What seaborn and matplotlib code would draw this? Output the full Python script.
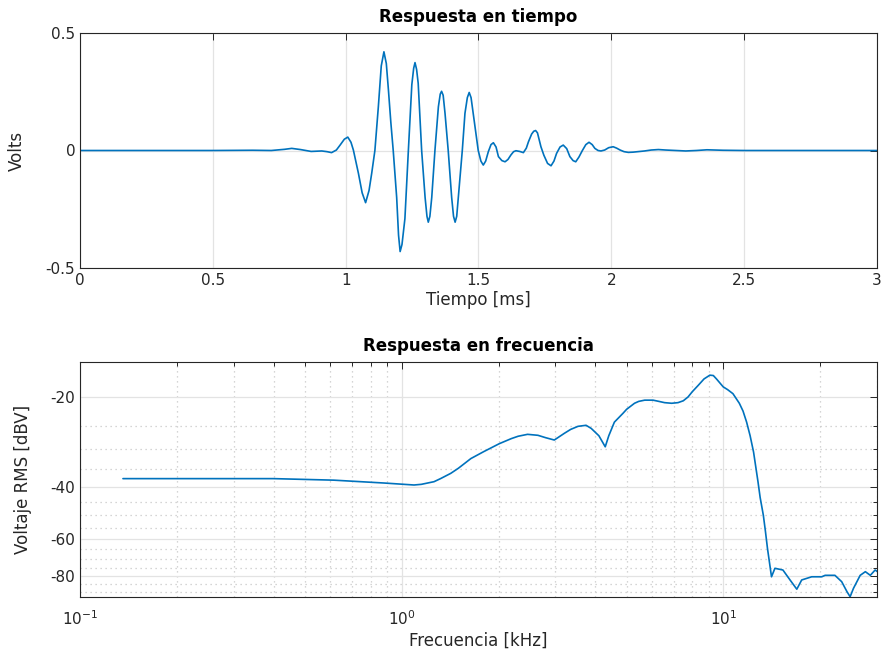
import numpy as np
import pandas as pd
import matplotlib
matplotlib.use("Agg")
import matplotlib.pyplot as plt
from matplotlib import ticker
import seaborn as sns

# --- Time response (ms, V) ---
t_ms = [
    0.0, 0.5, 0.65, 0.72, 0.77, 0.797, 0.83, 0.87, 0.91, 0.93,
    0.947, 0.965, 0.979, 0.995, 1.008, 1.02, 1.029, 1.048, 1.062, 1.075,
    1.088, 1.098, 1.110, 1.123, 1.134, 1.144, 1.153, 1.161, 1.170, 1.179,
    1.192, 1.199, 1.205, 1.212, 1.223, 1.236, 1.249, 1.256, 1.261, 1.267,
    1.273, 1.286, 1.299, 1.306, 1.311, 1.317, 1.324, 1.336, 1.349, 1.356,
    1.361, 1.367, 1.374, 1.386, 1.399, 1.406, 1.412, 1.418, 1.424, 1.439,
    1.449, 1.458, 1.465, 1.472, 1.480, 1.499, 1.509, 1.518, 1.527, 1.537,
    1.547, 1.556, 1.566, 1.575, 1.588, 1.600, 1.611, 1.622, 1.632, 1.641,
    1.655, 1.669, 1.680, 1.688, 1.700, 1.708, 1.715, 1.722, 1.735, 1.746,
    1.760, 1.773, 1.784, 1.794, 1.807, 1.819, 1.832, 1.844, 1.856, 1.866,
    1.878, 1.891, 1.904, 1.916, 1.928, 1.938, 1.950, 1.961, 1.975, 1.990,
    2.007, 2.020, 2.033, 2.048, 2.064, 2.082, 2.101, 2.125, 2.150, 2.177,
    2.205, 2.24, 2.28, 2.32, 2.36, 2.42, 2.5, 2.7, 3.0,
]
volts = [
    0.0, 0.0, 0.001, 0.0, 0.005, 0.009, 0.004, -0.004, -0.002, -0.005,
    -0.009, 0.002, 0.023, 0.048, 0.057, 0.035, 0.002, -0.097, -0.18, -0.222,
    -0.17, -0.097, 0.0, 0.186, 0.36, 0.42, 0.37, 0.257, 0.12, 0.0,
    -0.20, -0.36, -0.43, -0.40, -0.29, 0.0, 0.28, 0.35, 0.374, 0.345,
    0.286, 0.0, -0.2, -0.28, -0.305, -0.28, -0.2, 0.0, 0.186, 0.24,
    0.252, 0.235, 0.158, 0.0, -0.2, -0.28, -0.305, -0.28, -0.2, 0.0,
    0.158, 0.225, 0.247, 0.225, 0.158, 0.0, -0.045, -0.062, -0.045, -0.005,
    0.025, 0.033, 0.015, -0.026, -0.043, -0.048, -0.038, -0.019, -0.005, -0.001,
    -0.004, -0.009, 0.01, 0.037, 0.07, 0.082, 0.085, 0.075, 0.016, -0.02,
    -0.055, -0.065, -0.045, -0.012, 0.015, 0.023, 0.008, -0.026, -0.043, -0.048,
    -0.028, 0.0, 0.025, 0.035, 0.025, 0.009, 0.0, -0.002, 0.002, 0.012,
    0.016, 0.01, 0.002, -0.005, -0.008, -0.007, -0.005, -0.002, 0.002, 0.004,
    0.002, 0.0, -0.002, 0.0, 0.003, 0.001, 0.0, 0.0, 0.0,
]

# --- Frequency response (kHz, dBV RMS) ---
f_khz = [
    0.136, 0.2365, 0.399, 0.615, 0.881, 1.092, 1.15, 1.26, 1.32, 1.42,
    1.5, 1.64, 1.8, 2.01, 2.19, 2.3, 2.46, 2.65, 2.8, 2.98,
    3.20, 3.35, 3.53, 3.74, 3.88, 4.1, 4.29, 4.4, 4.58, 4.87,
    5.0, 5.29, 5.45, 5.69, 6.04, 6.3, 6.56, 6.9, 7.22, 7.5,
    7.76, 8.0, 8.34, 8.7, 9.07, 9.3, 9.51, 9.98, 10.3, 10.7,
    11.2, 11.5, 11.8, 12.1, 12.4, 12.8, 13.0, 13.3, 13.5, 13.7,
    13.9, 14.1, 14.45, 15.3, 16.1, 16.9, 17.5, 18.8, 20.2, 20.7,
    22.2, 23.3, 24.2, 24.75, 25.35, 26.6, 27.6, 28.6, 29.6, 30.1,
]
dbv = [
    -37.6, -37.6, -37.6, -38.05, -38.9, -39.5, -39.3, -38.5, -37.6, -36.1,
    -34.7, -32.2, -30.5, -28.7, -27.6, -27.1, -26.7, -26.9, -27.4, -27.9,
    -26.5, -25.7, -25.1, -24.9, -25.5, -27.0, -29.4, -27.0, -24.3, -22.7,
    -22.0, -21.0, -20.7, -20.5, -20.5, -20.7, -20.9, -21.0, -20.9, -20.6,
    -20.0, -19.2, -18.3, -17.4, -16.9, -16.95, -17.4, -18.5, -18.9, -19.5,
    -21.0, -22.3, -24.3, -27.0, -30.6, -38.5, -43.5, -49.9, -56.5, -64.5,
    -72.0, -80.3, -75.2, -76.2, -82.3, -88.4, -82.3, -80.3, -80.3, -79.4,
    -79.4, -83.4, -90.1, -93.7, -87.8, -79.4, -77.2, -79.4, -76.2, -77.2,
]

time_ticks = [0, 0.5, 1, 1.5, 2, 2.5, 3]
volt_ticks = [-0.5, 0, 0.5]
db_ticks = [-80, -60, -40, -20]
db_minor = [-90, -85, -75, -70, -65, -55, -50, -45, -35, -30, -25]

assert len(t_ms) == len(volts) and len(f_khz) == len(dbv)

sns.set_theme(style="white")
plt.rcParams["font.family"] = ["DejaVu Sans"]

LINE = "#0072BD"
INK = "#262626"

fig = plt.figure(figsize=(8.83, 6.57), dpi=100)
ax1 = fig.add_axes([80 / 883, 1 - 268 / 657, 797 / 883, 235 / 657])
ax2 = fig.add_axes([80 / 883, 1 - 597.3 / 657, 797 / 883, 235 / 657])

df_t = pd.DataFrame({"t": t_ms, "v": volts})
df_f = pd.DataFrame({"f": f_khz, "db": dbv})


def style_axes(ax):
    for s in ax.spines.values():
        s.set_color(INK)
        s.set_linewidth(0.8)
        s.set_visible(True)
    ax.tick_params(which="both", direction="in", top=True, right=True,
                   colors=INK, labelcolor=INK, labelsize=11, width=0.7)
    ax.tick_params(which="major", length=5)
    ax.tick_params(which="minor", length=3)
    ax.set_axisbelow(True)


def fmt_plain(v, pos):
    return f"{v:g}"


# Time response
sns.lineplot(data=df_t, x="t", y="v", ax=ax1, color=LINE, linewidth=1.2,
             estimator=None, sort=False)
ax1.set_xlim(0, 3)
ax1.set_ylim(-0.5, 0.5)
ax1.xaxis.set_major_locator(ticker.FixedLocator(time_ticks))
ax1.yaxis.set_major_locator(ticker.FixedLocator(volt_ticks))
ax1.xaxis.set_major_formatter(ticker.FuncFormatter(fmt_plain))
ax1.yaxis.set_major_formatter(ticker.FuncFormatter(fmt_plain))
ax1.grid(True, which="major", color="#e3e3e3", linewidth=0.9, linestyle="-")
style_axes(ax1)
ax1.set_xlabel("Tiempo [ms]", fontsize=12, color=INK, labelpad=2)
ax1.set_ylabel("Volts", fontsize=12, color=INK, labelpad=14)
ax1.set_title("Respuesta en tiempo", fontsize=12, fontweight="bold",
              color="black", pad=8)


# Frequency response: magnitude axis on a logarithmic scale of |dBV|
def fwd(y):
    y = np.asarray(y, dtype=float)
    return -np.log10(np.clip(-y, 1e-6, None))


def inv(u):
    u = np.asarray(u, dtype=float)
    return -np.power(10.0, -u)


sns.lineplot(data=df_f, x="f", y="db", ax=ax2, color=LINE, linewidth=1.2,
             estimator=None, sort=False)
ax2.set_xscale("log")
ax2.set_yscale("function", functions=(fwd, inv))
ax2.set_xlim(0.1, 30)
ax2.set_ylim(-94.1, -15.3)
ax2.xaxis.set_major_locator(ticker.LogLocator(base=10, numticks=10))
ax2.xaxis.set_minor_locator(ticker.LogLocator(base=10, subs=np.arange(2, 10), numticks=20))
ax2.xaxis.set_major_formatter(ticker.LogFormatterSciNotation())
ax2.xaxis.set_minor_formatter(ticker.NullFormatter())
ax2.yaxis.set_major_locator(ticker.FixedLocator(db_ticks))
ax2.yaxis.set_minor_locator(ticker.FixedLocator(db_minor))
ax2.yaxis.set_major_formatter(ticker.FuncFormatter(fmt_plain))
ax2.yaxis.set_minor_formatter(ticker.NullFormatter())
ax2.grid(True, which="major", color="#e3e3e3", linewidth=0.9, linestyle="-")
ax2.grid(True, which="minor", color="#c8c8c8", linewidth=0.9, linestyle=(0, (1, 3)))
style_axes(ax2)
ax2.tick_params(axis="x", which="major", pad=9)
ax2.set_xlabel("Frecuencia [kHz]", fontsize=12, color=INK, labelpad=2)
ax2.set_ylabel("Voltaje RMS [dBV]", fontsize=12, color=INK, labelpad=13)
ax2.set_title("Respuesta en frecuencia", fontsize=12, fontweight="bold",
              color="black", pad=8)

fig.savefig("out.png", dpi=100)
